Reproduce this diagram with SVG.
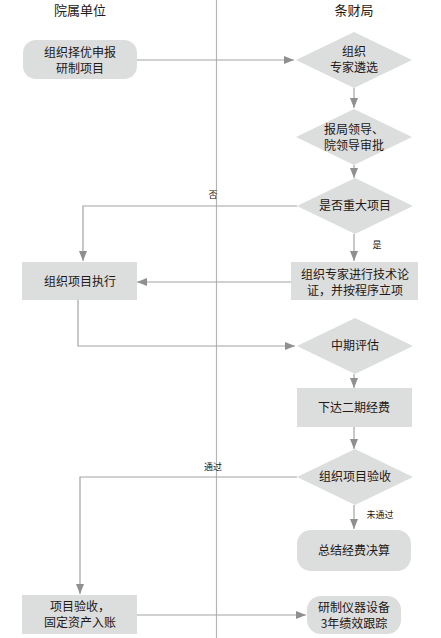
<svg xmlns="http://www.w3.org/2000/svg" width="441" height="638" viewBox="0 0 441 638">
<style>
.bg{fill:#ffffff}
.shape{fill:#dcdddd;stroke:none}
.t{font-family:"Noto Sans CJK SC","Noto Sans CJK JP",sans-serif;font-size:12px;fill:#231815;text-anchor:middle}
.h{font-family:"Noto Sans CJK SC","Noto Sans CJK JP",sans-serif;font-size:13px;fill:#231815;text-anchor:middle}
.lbl{font-family:"Noto Sans CJK SC","Noto Sans CJK JP",sans-serif;font-size:9px;fill:#231815;text-anchor:middle}
.c{fill:none;stroke:#a3a3a3;stroke-width:1.2}
.div{stroke:#b5b5b5;stroke-width:1.2}
</style>
<defs>
<marker id="ah" viewBox="0 0 10 8" refX="10" refY="4" markerWidth="10" markerHeight="8" markerUnits="userSpaceOnUse" orient="auto">
<path d="M0,0 L10,4 L0,8 Z" fill="#8f8f8f"/>
</marker>
</defs>
<rect class="bg" x="0" y="0" width="441" height="638"/>
<line class="div" x1="216.5" y1="0" x2="216.5" y2="638"/>
<text class="h" x="80" y="15">院属单位</text>
<text class="h" x="354" y="15">条财局</text>

<g id="connectors">
<path class="c" d="M137,60 H294" marker-end="url(#ah)"/>
<path class="c" d="M354,88 V108" marker-end="url(#ah)"/>
<path class="c" d="M354,165 V178" marker-end="url(#ah)"/>
<path class="c" d="M297,206 H83 V261" marker-end="url(#ah)"/>
<path class="c" d="M354,234 V261" marker-end="url(#ah)"/>
<path class="c" d="M291,282 H137" marker-end="url(#ah)"/>
<path class="c" d="M78,300 V346 H295" marker-end="url(#ah)"/>
<path class="c" d="M354,374 V388" marker-end="url(#ah)"/>
<path class="c" d="M354,427 V449" marker-end="url(#ah)"/>
<path class="c" d="M297,477 H80 V594" marker-end="url(#ah)"/>
<path class="c" d="M354,505 V529" marker-end="url(#ah)"/>
<path class="c" d="M135,615 H306" marker-end="url(#ah)"/>
<text class="lbl" x="213" y="198">否</text>
<text class="lbl" x="377" y="248">是</text>
<text class="lbl" x="213" y="470">通过</text>
<text class="lbl" x="380" y="518">未通过</text>
</g>

<g id="n1">
<rect class="shape" x="23" y="40" width="114" height="39" rx="13"/>
<text class="t" x="80" y="56.5">组织择优申报<tspan x="80" dy="16">研制项目</tspan></text>
</g>
<g id="n2">
<polygon class="shape" points="296,60 354,32 412,60 354,88"/>
<text class="t" x="354" y="56">组织<tspan x="354" dy="16">专家遴选</tspan></text>
</g>
<g id="n3">
<polygon class="shape" points="296,137 354,109 412,137 354,165"/>
<text class="t" x="354" y="134">报局领导、<tspan x="354" dy="16">院领导审批</tspan></text>
</g>
<g id="n4">
<polygon class="shape" points="297,206 355,178 413,206 355,234"/>
<text class="t" x="355" y="210">是否重大项目</text>
</g>
<g id="n5">
<rect class="shape" x="22" y="262" width="115" height="38"/>
<text class="t" x="80" y="286">组织项目执行</text>
</g>
<g id="n6">
<rect class="shape" x="291" y="262" width="127" height="38"/>
<text class="t" x="355" y="279">组织专家进行技术论<tspan x="355" dy="16">证，并按程序立项</tspan></text>
</g>
<g id="n7">
<polygon class="shape" points="297,346 355,318 413,346 355,374"/>
<text class="t" x="355" y="350">中期评估</text>
</g>
<g id="n8">
<rect class="shape" x="297" y="388" width="115" height="39"/>
<text class="t" x="354" y="412">下达二期经费</text>
</g>
<g id="n9">
<polygon class="shape" points="297,477 355,449 413,477 355,505"/>
<text class="t" x="355" y="481">组织项目验收</text>
</g>
<g id="n10">
<rect class="shape" x="297" y="530" width="114" height="41" rx="14"/>
<text class="t" x="354" y="555">总结经费决算</text>
</g>
<g id="n11">
<rect class="shape" x="22" y="595" width="115" height="39"/>
<text class="t" x="80" y="611">项目验收，<tspan x="80" dy="16">固定资产入账</tspan></text>
</g>
<g id="n12">
<rect class="shape" x="307" y="596" width="94" height="38" rx="14"/>
<text class="t" x="354" y="612">研制仪器设备<tspan x="354" dy="16">3年绩效跟踪</tspan></text>
</g>
</svg>
